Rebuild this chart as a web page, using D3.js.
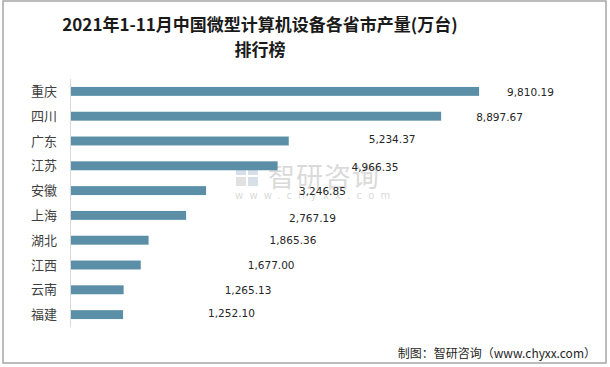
<!DOCTYPE html>
<html><head><meta charset="utf-8">
<script src="https://cdn.jsdelivr.net/npm/d3@7"></script>
<style>body{margin:0;background:#fff}svg{display:block}</style>
</head><body>
<script>
const categories = ["重庆","四川","广东","江苏","安徽","上海","湖北","江西","云南","福建"];
const values = [9810.19,8897.67,5234.37,4966.35,3246.85,2767.19,1865.36,1677.00,1265.13,1252.10];
const titleLines = ["2021年1-11月中国微型计算机设备各省市产量(万台)","排行榜"];
const sourceText = "制图：智研咨询（www.chyxx.com）";
// layout: manual label offsets (px) as placed in the reference
const labelDx = [28,35,80,74,93,103,121,107,101,85];
const labelDy = [1,1,-2,2,1,3,0,0,1,-1];

const W=610,H=367;
const svg=d3.select("body").append("svg").attr("width",W).attr("height",H);
svg.append("rect").attr("x",3).attr("y",1).attr("width",603).attr("height",362)
  .attr("fill","#fff").attr("stroke","#a6a6a6").attr("stroke-width",1.5);

const x=d3.scaleLinear().domain([0,10000]).range([71,487]);
const y=d3.scaleBand().domain(categories).range([79,327]).paddingInner(0.64).paddingOuter(0.32);

// watermark
const wm=svg.append("g").attr("opacity",0.55);
wm.append("rect").attr("x",236).attr("y",166).attr("width",10).attr("height",9).attr("fill","#b8c6d8");
wm.append("rect").attr("x",248).attr("y",166).attr("width",10).attr("height",9).attr("fill","#b8c6d8");
wm.append("rect").attr("x",236).attr("y",177).attr("width",10).attr("height",9).attr("fill","#c9c9c9");
wm.append("rect").attr("x",248).attr("y",177).attr("width",10).attr("height",9).attr("fill","#b8c6d8");
wm.append("text").attr("x",268).attr("y",187).attr("font-family","Noto Sans CJK SC").attr("font-size",27)
  .attr("fill","#bdbdbd").attr("letter-spacing",1).text("智研咨询");
wm.append("text").attr("x",235).attr("y",199).attr("font-family","DejaVu Sans").attr("font-size",10)
  .attr("fill","#bdbdbd").attr("letter-spacing",6.2).text("www.chyxx.com");

// bars
svg.selectAll("rect.bar").data(values).join("rect").attr("class","bar")
  .attr("x",x(0)).attr("y",(d,i)=>y(categories[i]))
  .attr("width",d=>x(d)-x(0)).attr("height",y.bandwidth())
  .attr("fill","#5b8fa7");

// axis line
svg.append("line").attr("x1",70.5).attr("x2",70.5).attr("y1",79).attr("y2",327)
  .attr("stroke","#d9d9d9").attr("stroke-width",1);

// category labels
svg.selectAll("text.cat").data(categories).join("text").attr("class","cat")
  .attr("x",57).attr("y",d=>y(d)+y.bandwidth()/2).attr("dy","0.35em")
  .attr("text-anchor","end").attr("font-family","Noto Sans CJK SC").attr("font-size",13)
  .attr("fill","#404040").text(d=>d);

// value labels
const fmt=d3.format(",.2f");
svg.selectAll("text.val").data(values).join("text").attr("class","val")
  .attr("x",(d,i)=>x(d)+labelDx[i]).attr("y",(d,i)=>y(categories[i])+y.bandwidth()/2+labelDy[i])
  .attr("dy","0.35em").attr("font-family","DejaVu Sans").attr("font-size",10.5)
  .attr("fill","#262626").text(d=>fmt(d));

// title
svg.selectAll("text.title").data(titleLines).join("text").attr("class","title")
  .attr("x",260).attr("y",(d,i)=>31+i*25).attr("text-anchor","middle")
  .attr("font-family","Noto Sans CJK SC").attr("font-weight","bold").attr("font-size",17)
  .attr("fill","#1a1a1a").text(d=>d);

// source
svg.append("text").attr("x",596).attr("y",358).attr("text-anchor","end")
  .attr("font-family","Noto Sans CJK SC").attr("font-size",12).attr("fill","#262626").text(sourceText);
</script>
</body></html>
